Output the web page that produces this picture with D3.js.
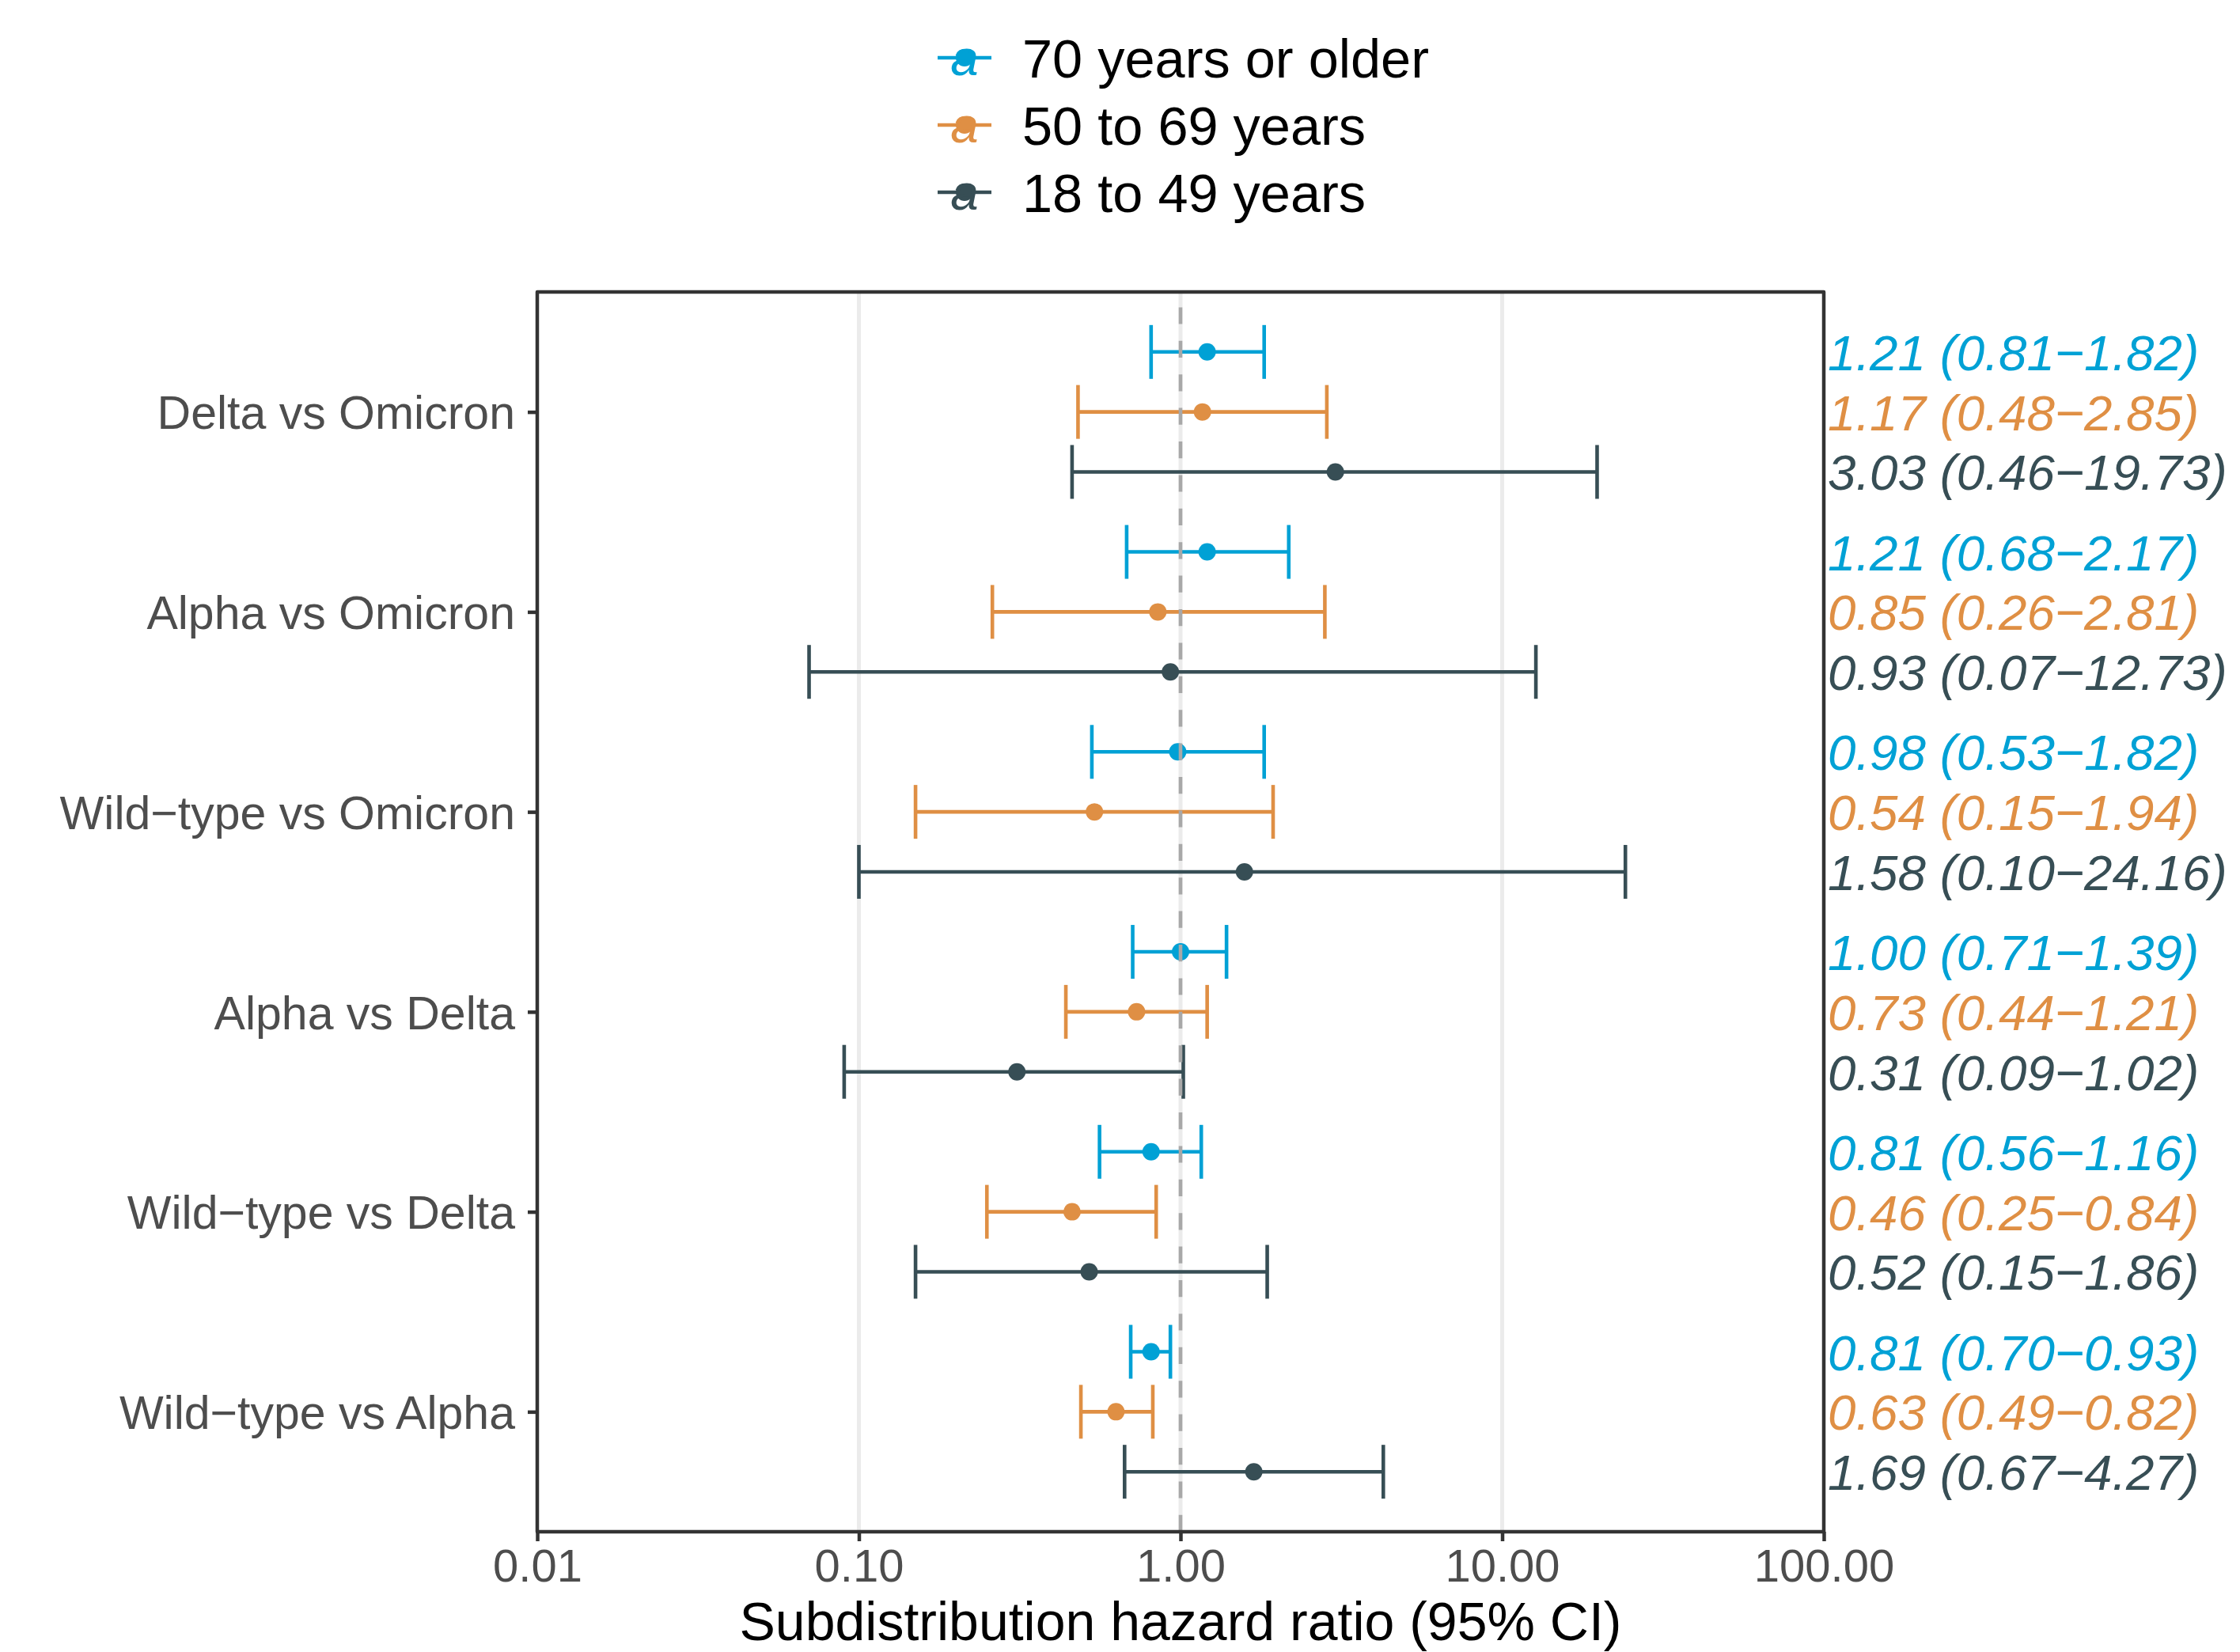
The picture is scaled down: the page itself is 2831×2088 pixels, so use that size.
<!DOCTYPE html>
<html>
<head>
<meta charset="utf-8">
<script src="https://cdn.jsdelivr.net/npm/d3@7"></script>
<style>
  html, body { margin: 0; padding: 0; background: #ffffff; }
  svg { display: block; font-family: "Liberation Sans", Arial, Helvetica, sans-serif; }
</style>
</head>
<body>
<svg id="chart" width="2831" height="2088"></svg>
<script>
// ---------------- DATA ----------------
const comparisons = [
  "Delta vs Omicron",
  "Alpha vs Omicron",
  "Wild\u2212type vs Omicron",
  "Alpha vs Delta",
  "Wild\u2212type vs Delta",
  "Wild\u2212type vs Alpha"
];
const ageGroups = ["70 years or older", "50 to 69 years", "18 to 49 years"];
const groupColors = ["#00A1D5", "#DF8F44", "#374E55"];

// 70 years or older
const hr70 = [1.21, 1.21, 0.98, 1.00, 0.81, 0.81];
const lo70 = [0.81, 0.68, 0.53, 0.71, 0.56, 0.70];
const hi70 = [1.82, 2.17, 1.82, 1.39, 1.16, 0.93];
// 50 to 69 years
const hr50 = [1.17, 0.85, 0.54, 0.73, 0.46, 0.63];
const lo50 = [0.48, 0.26, 0.15, 0.44, 0.25, 0.49];
const hi50 = [2.85, 2.81, 1.94, 1.21, 0.84, 0.82];
// 18 to 49 years
const hr18 = [3.03, 0.93, 1.58, 0.31, 0.52, 1.69];
const lo18 = [0.46, 0.07, 0.10, 0.09, 0.15, 0.67];
const hi18 = [19.73, 12.73, 24.16, 1.02, 1.86, 4.27];

const xTicks = [0.01, 0.1, 1, 10, 100];
const xTitle = "Subdistribution hazard ratio (95% CI)";

// build rows
const seriesVals = [[hr70, lo70, hi70], [hr50, lo50, hi50], [hr18, lo18, hi18]];
const rows = [];
comparisons.forEach((c, i) => {
  ageGroups.forEach((g, j) => {
    const [h, l, u] = seriesVals[j];
    rows.push({ comp: c, group: g, hr: h[i], lo: l[i], hi: u[i], color: groupColors[j] });
  });
});
const fmt = v => v.toFixed(2);

// ---------------- LAYOUT ----------------
const svg = d3.select("#chart");
const W = 2831, H = 2088;
const P = { left: 679, right: 2305, top: 369, bottom: 1936 };

svg.append("rect").attr("x", 0).attr("y", 0).attr("width", W).attr("height", H).attr("fill", "#ffffff");

const x = d3.scaleLog().domain([0.01, 100]).range([P.left, P.right]);
const y = d3.scalePoint().domain(comparisons).range([P.top, P.bottom]).padding(0.6);
const step = y.step();
const dodge = d3.scalePoint().domain(ageGroups).range([-0.3 * step, 0.3 * step]);
const color = d3.scaleOrdinal().domain(ageGroups).range(groupColors);
const ry = d => y(d.comp) + dodge(d.group);

const capHalf = 34;
const lw = 4.6;

// grid lines (major)
svg.append("g").selectAll("line").data([0.1, 1, 10]).join("line")
  .attr("x1", d => x(d)).attr("x2", d => x(d))
  .attr("y1", P.top).attr("y2", P.bottom)
  .attr("stroke", "#EBEBEB").attr("stroke-width", 5);

// error bars
const eb = svg.append("g");
eb.selectAll("line.h").data(rows).join("line").attr("class", "h")
  .attr("x1", d => x(d.lo)).attr("x2", d => x(d.hi))
  .attr("y1", ry).attr("y2", ry)
  .attr("stroke", d => color(d.group)).attr("stroke-width", lw);
eb.selectAll("line.l").data(rows).join("line").attr("class", "l")
  .attr("x1", d => x(d.lo)).attr("x2", d => x(d.lo))
  .attr("y1", d => ry(d) - capHalf).attr("y2", d => ry(d) + capHalf)
  .attr("stroke", d => color(d.group)).attr("stroke-width", lw);
eb.selectAll("line.u").data(rows).join("line").attr("class", "u")
  .attr("x1", d => x(d.hi)).attr("x2", d => x(d.hi))
  .attr("y1", d => ry(d) - capHalf).attr("y2", d => ry(d) + capHalf)
  .attr("stroke", d => color(d.group)).attr("stroke-width", lw);

// points
svg.append("g").selectAll("circle").data(rows).join("circle")
  .attr("cx", d => x(d.hr)).attr("cy", ry).attr("r", 11)
  .attr("fill", d => color(d.group));

// reference dashed line at 1
svg.append("line")
  .attr("x1", x(1)).attr("x2", x(1))
  .attr("y1", P.bottom).attr("y2", P.top)
  .attr("stroke", "#A8A8A8").attr("stroke-width", 4.6)
  .attr("stroke-dasharray", "21.2,21.2");

// estimate labels on right
svg.append("g").selectAll("text").data(rows).join("text")
  .attr("x", P.right + 5)
  .attr("y", d => ry(d) + 23)
  .attr("font-size", 63.7).attr("font-style", "italic")
  .attr("fill", d => color(d.group))
  .text(d => `${fmt(d.hr)} (${fmt(d.lo)}\u2212${fmt(d.hi)})`);

// x axis
const xAxis = svg.append("g").attr("transform", `translate(0,${P.bottom})`)
  .call(d3.axisBottom(x).tickValues(xTicks).tickFormat(d => d.toFixed(2)).tickSize(12).tickPadding(10));
xAxis.select(".domain").remove();
xAxis.selectAll(".tick line").attr("stroke", "#333333").attr("stroke-width", 4.5);
xAxis.selectAll(".tick text").attr("fill", "#4D4D4D").attr("font-size", 58)
  .attr("font-family", "Liberation Sans, Arial, sans-serif");

// y axis
const yAxis = svg.append("g").attr("transform", `translate(${P.left},0)`)
  .call(d3.axisLeft(y).tickSize(12).tickPadding(16));
yAxis.select(".domain").remove();
yAxis.selectAll(".tick line").attr("stroke", "#333333").attr("stroke-width", 4.5);
yAxis.selectAll(".tick text").attr("fill", "#4D4D4D").attr("font-size", 59)
  .attr("dy", "0.36em")
  .attr("font-family", "Liberation Sans, Arial, sans-serif");

// panel border
svg.append("rect")
  .attr("x", P.left).attr("y", P.top)
  .attr("width", P.right - P.left).attr("height", P.bottom - P.top)
  .attr("fill", "none").attr("stroke", "#333333").attr("stroke-width", 4.5)
  .attr("stroke-linejoin", "round");

// x title
svg.append("text")
  .attr("x", (P.left + P.right) / 2).attr("y", 2073.4)
  .attr("text-anchor", "middle").attr("font-size", 68).attr("fill", "#000000")
  .text(xTitle);

// legend
const legY = d3.scalePoint().domain(ageGroups).range([73, 243]);
const leg = svg.append("g").selectAll("g").data(ageGroups).join("g")
  .attr("transform", d => `translate(0,${legY(d)})`);
leg.append("line").attr("x1", 1185).attr("x2", 1253).attr("y1", 0).attr("y2", 0)
  .attr("stroke", d => color(d)).attr("stroke-width", 4.7);
leg.append("circle").attr("cx", 1219).attr("cy", 0).attr("r", 11).attr("fill", d => color(d));
leg.append("text").attr("x", 1219).attr("y", 22).attr("text-anchor", "middle")
  .attr("font-size", 63.7).attr("font-style", "italic").attr("fill", d => color(d)).text("a");
leg.append("text").attr("x", 1292).attr("y", 25)
  .attr("font-size", 68.5).attr("fill", "#000000").text(d => d);
</script>
</body>
</html>
